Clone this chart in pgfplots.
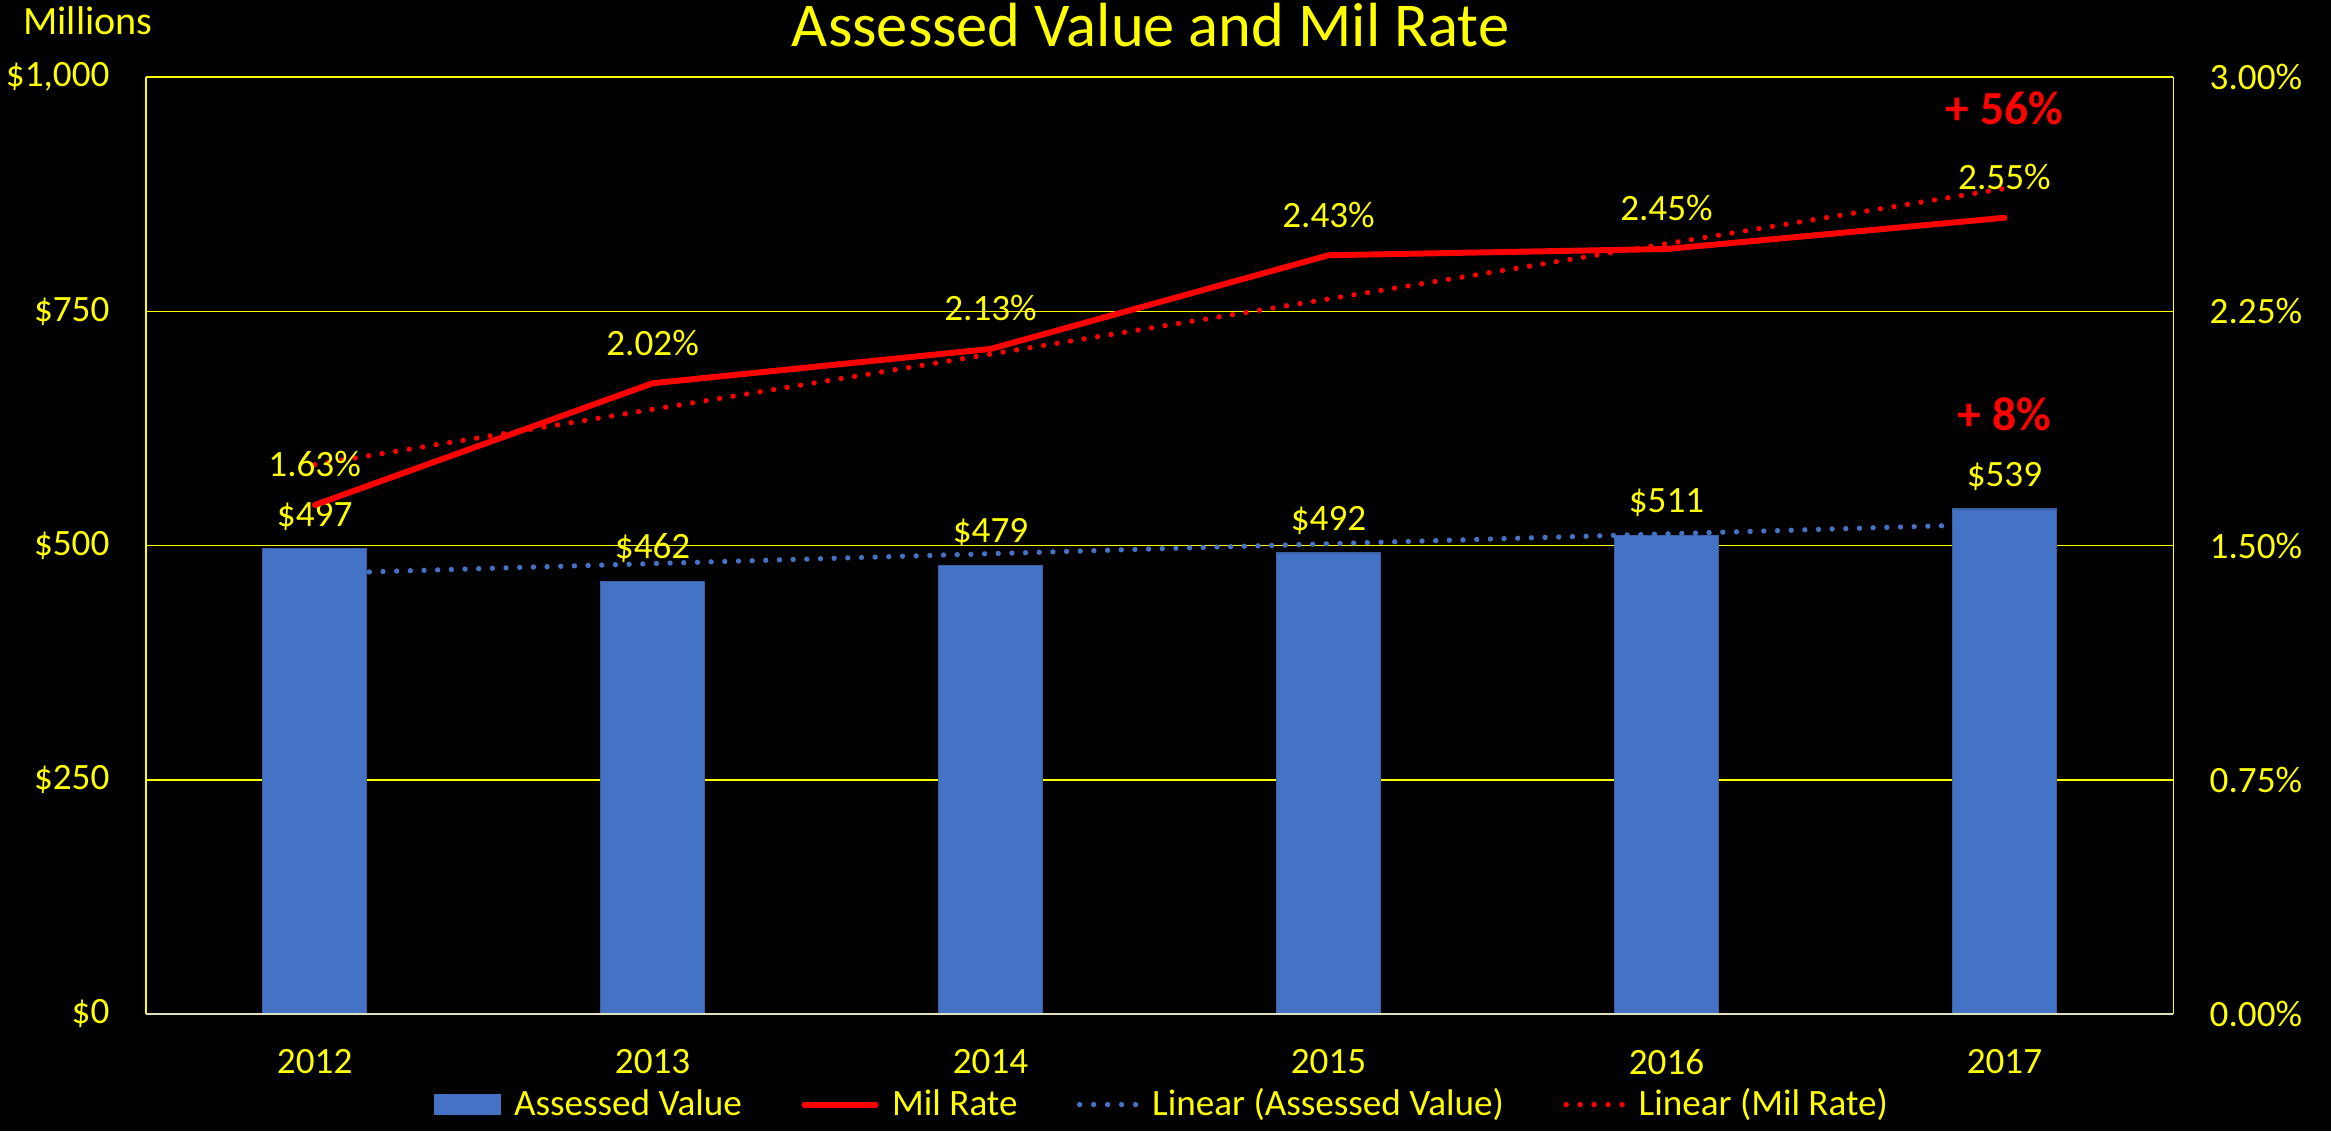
\documentclass[border=0pt]{standalone}
\usepackage{pgfplots}
\pgfplotsset{compat=1.18}
\usepackage{fontspec}
\setmainfont{Carlito}
\definecolor{cyel}{HTML}{FFFF00}
\definecolor{cred}{HTML}{FF0000}
\definecolor{cblue}{HTML}{4472C4}
\definecolor{cbase}{RGB}{224,224,190}
\newcommand{\fs}{\fontsize{12.5}{14}\selectfont}
\pgfplotsset{common/.style={scale only axis, width=682pt, height=315pt,
  at={(0,0)}, anchor=south west, xmin=-0.5, xmax=5.5,
  axis line style={draw=none}, major tick length=0pt, tick style={draw=none},
  ticklabel style={font=\fs, text=cyel}, clip=false}}
\begin{document}
\begin{tikzpicture}
\path[use as bounding box] (-49pt,-39.5pt) rectangle (735pt,341pt);
\fill[black] (-49pt,-39.5pt) rectangle (735pt,341pt);
\begin{axis}[common, ymin=0, ymax=1000,
  ytick={0,250,500,750,1000},
  yticklabels={\$0,\$250,\$500,\$750,{\$1,000}},
  yticklabel style={anchor=east, inner sep=0pt, xshift=-12pt},
  xtick={0,1,2,3,4,5},
  xticklabels={2012,2013,2014,2015,2016,2017},
  xticklabel style={anchor=north, inner sep=0pt, yshift=-11.8pt},
  ymajorgrids, grid style={cyel, line width=0.6pt}]
\addplot[ybar, bar width=35pt, bar shift=0pt, fill=cblue, draw=cblue!85!black, line width=0.4pt,
  point meta=explicit symbolic, nodes near coords,
  every node near coord/.append style={anchor=base, inner sep=0pt, yshift=7.5pt, font=\fs, text=cyel}]
  coordinates {(0,497) [\$497] (1,462) [\$462] (2,479) [\$479] (3,492) [\$492] (4,511) [\$511] (5,539) [\$539]};
\addplot[cblue, line width=1.8pt, line cap=round, dash pattern=on 0pt off 4.6pt]
  coordinates {(0,470.2) (5,523.1)};
\draw[cyel, line width=0.6pt] (rel axis cs:0,0) -- (rel axis cs:0,1);
\draw[cyel, line width=0.6pt] (rel axis cs:1,0) -- (rel axis cs:1,1);
\draw[cbase, line width=0.8pt] (rel axis cs:0,0) -- (rel axis cs:1,0);
\node[anchor=base, inner sep=0pt, font=\bfseries\fontsize{16}{18}\selectfont, text=cred] at (axis cs:5,623) {+ 8\%};
\node[anchor=base west, inner sep=0pt, font=\fontsize{13.5}{15}\selectfont, text=cyel, xshift=-41.3pt, yshift=14.25pt] at (rel axis cs:0,1) {Millions};
\node[anchor=base, inner sep=0pt, font=\fontsize{21}{24}\selectfont, text=cyel, xshift=-3pt, yshift=10.3pt] at (rel axis cs:0.5,1) {Assessed Value and Mil Rate};
\end{axis}
\begin{axis}[common, ymin=0, ymax=3,
  ytick={0,0.75,1.5,2.25,3},
  yticklabels={0.00\%,0.75\%,1.50\%,2.25\%,3.00\%},
  yticklabel pos=right,
  yticklabel style={anchor=west, inner sep=0pt, xshift=12pt},
  xtick=\empty,
  legend columns=4, legend cell align=left,
  legend style={at={(0.5,0)}, anchor=center, yshift=-30.5pt, xshift=1.5pt, draw=none, fill=none,
    text=cyel, font=\fs, inner sep=0pt,
    /tikz/every odd column/.append style={column sep=2.5pt},
    /tikz/every even column/.append style={column sep=18pt}}]
\addplot[cred, line width=2pt, line cap=round, line join=round, forget plot,
  point meta=explicit symbolic, nodes near coords,
  every node near coord/.append style={anchor=base, inner sep=0pt, yshift=9.5pt, font=\fs, text=cyel}]
  coordinates {(0,1.63) [1.63\%] (1,2.02) [2.02\%] (2,2.13) [2.13\%] (3,2.43) [2.43\%] (4,2.45) [2.45\%] (5,2.55) [2.55\%]};
\addplot[cred, line width=1.8pt, line cap=round, dash pattern=on 0pt off 4.6pt, forget plot]
  coordinates {(0,1.7595) (5,2.6438)};
\node[anchor=base, inner sep=0pt, font=\bfseries\fontsize{16}{18}\selectfont, text=cred] at (axis cs:5,2.85) {+ 56\%};
\addlegendimage{legend image code/.code={\fill[cblue] (0pt,-3.2pt) rectangle (22pt,3.2pt);}}
\addlegendentry{Assessed Value}
\addlegendimage{legend image code/.code={\draw[cred, line width=2pt, line cap=round] (0pt,0pt) -- (24pt,0pt);}}
\addlegendentry{Mil Rate}
\addlegendimage{legend image code/.code={\draw[cblue, line width=1.8pt, line cap=round, dash pattern=on 0pt off 4.7pt] (0pt,0pt) -- (19pt,0pt);}}
\addlegendentry{Linear (Assessed Value)}
\addlegendimage{legend image code/.code={\draw[cred, line width=1.8pt, line cap=round, dash pattern=on 0pt off 4.7pt] (0pt,0pt) -- (19pt,0pt);}}
\addlegendentry{Linear (Mil Rate)}
\end{axis}
\end{tikzpicture}
\end{document}
